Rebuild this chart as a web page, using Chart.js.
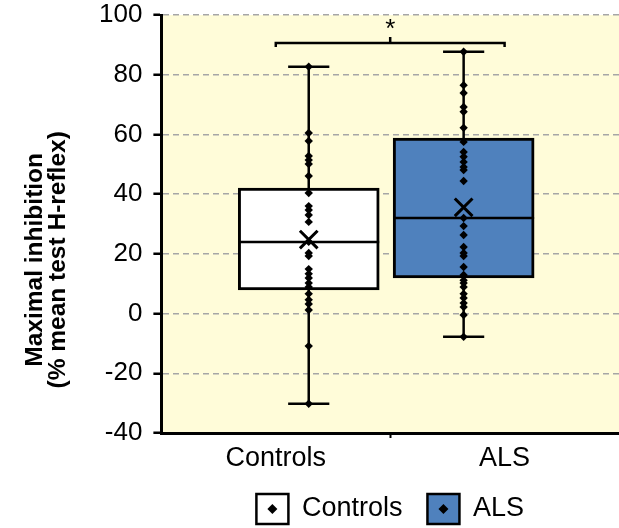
<!DOCTYPE html>
<html>
<head>
<meta charset="utf-8">
<script src="https://cdn.jsdelivr.net/npm/chart.js@4.4.1/dist/chart.umd.min.js"></script>
<style>
  html, body { margin: 0; padding: 0; background: #fff; }
  #wrap { width: 619px; height: 528px; }
</style>
</head>
<body>
<div id="wrap"><canvas id="boxChart"></canvas></div>
<script>
// Group names and the individual subject values
const categories = ['Controls', 'ALS'];
const controlsValues = [82.7, 60.5, 57.8, 52.8, 51.4, 50.1, 46.1, 40.4, 36.0, 34.7, 33.0, 30.7, 24.0,
  20.3, 19.3, 14.9, 13.3, 11.9, 10.2, 8.9, 6.6, 4.6, 3.2, 1.2, -10.9, -30.2];
const alsValues = [87.7, 76.5, 73.9, 69.2, 67.6, 62.2, 57.5, 54.1, 52.5, 50.8, 49.1, 48.1, 44.4,
  32.0, 29.3, 26.3, 22.3, 20.3, 19.3, 15.6, 12.9, 11.2, 10.2, 8.9, 6.6, 5.2, 3.5, 2.2, -0.5, -7.8];

// Box summary per group (Controls, ALS)
const whiskerLow = [-30.2, -7.8];
const quartile1 = [7.9, 11.9];
const medians = [24.0, 32.0];
const quartile3 = [42.0, 58.8];
const whiskerHigh = [82.7, 87.7];
const means = [24.8, 35.6];

// y axis ticks and title
const yMin = -40, yMax = 100, yStep = 20;
const yTitle = ['Maximal inhibition', '(% mean test H-reflex)'];

// significance bracket between the groups
const bracketLevel = 90.6;
const sigLabel = '*';

// layout of the x axis: groups sit at 1 and 3 on a 0..4 scale
const groupSlot = [1, 3];
const boxCenter = [1.288, 2.642];
const boxHalf = 0.616;
const capHalf = 0.18;

const fillColors = ['#FFFFFF', '#4F81BD'];
const FONT = "'Liberation Sans', Arial, sans-serif";

const datasets = [];

categories.forEach((name, i) => {
  const cx = boxCenter[i];
  // whisker stem
  datasets.push({
    type: 'line', order: 6, borderColor: '#000', borderWidth: 2.5, pointRadius: 0,
    data: [{ x: cx, y: whiskerLow[i] }, { x: cx, y: whiskerHigh[i] }]
  });
  // whisker caps
  [whiskerLow[i], whiskerHigh[i]].forEach(v => {
    datasets.push({
      type: 'line', order: 6, borderColor: '#000', borderWidth: 2.5, pointRadius: 0,
      data: [{ x: cx - capHalf, y: v }, { x: cx + capHalf, y: v }]
    });
  });
  // median line
  datasets.push({
    type: 'line', order: 4, borderColor: '#000', borderWidth: 2.5, pointRadius: 0,
    data: [{ x: cx - boxHalf, y: medians[i] }, { x: cx + boxHalf, y: medians[i] }]
  });
});

// the boxes themselves, as floating bars from Q1 to Q3
datasets.push({
  type: 'bar', order: 5,
  data: categories.map((c, i) => ({ x: boxCenter[i], y: [quartile1[i], quartile3[i]] })),
  backgroundColor: fillColors,
  borderColor: '#000',
  borderWidth: 3,
  borderSkipped: false,
  barThickness: 141
});

// individual subjects
[controlsValues, alsValues].forEach((vals, i) => {
  datasets.push({
    type: 'scatter', order: 3,
    data: vals.map(v => ({ x: boxCenter[i], y: v })),
    pointStyle: 'rectRot', pointRadius: 4.2, backgroundColor: '#000', borderWidth: 0
  });
});

// group means
datasets.push({
  type: 'scatter', order: 2,
  data: means.map((m, i) => ({ x: boxCenter[i], y: m })),
  pointStyle: 'crossRot', pointRadius: 12.5, borderColor: '#000', borderWidth: 3
});

// significance bracket
datasets.push({
  type: 'line', order: 4, borderColor: '#000', borderWidth: 2.5, pointRadius: 0,
  data: [
    { x: groupSlot[0], y: bracketLevel - 1.3 }, { x: groupSlot[0], y: bracketLevel },
    { x: groupSlot[1], y: bracketLevel }, { x: groupSlot[1], y: bracketLevel - 1.3 }
  ]
});
datasets.push({
  type: 'line', order: 4, borderColor: '#000', borderWidth: 2.5, pointRadius: 0,
  data: [{ x: 2, y: bracketLevel }, { x: 2, y: bracketLevel + 2 }]
});

// plot area tint, significance mark, y title and legend diamonds
const decorations = {
  id: 'decorations',
  beforeDraw(chart) {
    const { ctx, chartArea: a } = chart;
    ctx.save();
    ctx.fillStyle = '#FFFCD9';
    ctx.fillRect(a.left, a.top, a.right - a.left, a.bottom - a.top);
    ctx.restore();
  },
  afterDatasetsDraw(chart) {
    const { ctx, scales } = chart;
    ctx.save();
    ctx.fillStyle = '#000';
    ctx.font = '26px ' + FONT;
    ctx.textAlign = 'center';
    ctx.textBaseline = 'middle';
    ctx.fillText(sigLabel, scales.x.getPixelForValue(2), scales.y.getPixelForValue(bracketLevel + 4.5));
    ctx.restore();
  },
  afterDraw(chart) {
    const ctx = chart.ctx;
    // rotated two-line axis title, sitting a little below the middle of the axis
    const midY = chart.scales.y.getPixelForValue(18);
    ctx.save();
    ctx.fillStyle = '#000';
    ctx.font = 'bold 24.5px ' + FONT;
    ctx.textAlign = 'center';
    ctx.textBaseline = 'middle';
    yTitle.forEach((line, i) => {
      ctx.save();
      ctx.translate(35 + i * 23.5, midY);
      ctx.rotate(-Math.PI / 2);
      ctx.fillText(line, 0, 0);
      ctx.restore();
    });
    ctx.restore();

    const boxes = chart.legend && chart.legend.legendHitBoxes;
    if (!boxes) return;
    const bw = chart.legend.options.labels.boxWidth;
    ctx.save();
    ctx.fillStyle = '#000';
    boxes.forEach(b => {
      const cx = b.left + bw / 2;
      const cy = b.top + b.height / 2;
      const r = 5;
      ctx.beginPath();
      ctx.moveTo(cx, cy - r);
      ctx.lineTo(cx + r, cy);
      ctx.lineTo(cx, cy + r);
      ctx.lineTo(cx - r, cy);
      ctx.closePath();
      ctx.fill();
    });
    ctx.restore();
  }
};

new Chart(document.getElementById('boxChart'), {
  type: 'scatter',
  data: { datasets },
  plugins: [decorations],
  options: {
    responsive: true,
    maintainAspectRatio: false,
    animation: false,
    layout: { autoPadding: false, padding: { left: 88, top: 0, right: 0, bottom: -6 } },
    plugins: {
      tooltip: { enabled: false },
      legend: {
        position: 'bottom',
        fullSize: false,
        onClick: null,
        labels: {
          boxWidth: 32,
          boxHeight: 30,
          padding: 25,
          color: '#000',
          font: { family: FONT, size: 27 },
          generateLabels: () => categories.map((name, i) => ({
            text: name,
            fillStyle: fillColors[i],
            strokeStyle: '#000',
            lineWidth: 2.5,
            hidden: false,
            datasetIndex: 0
          }))
        }
      }
    },
    scales: {
      x: {
        type: 'linear',
        min: 0,
        max: 4,
        offset: false,
        afterBuildTicks: scale => { scale.ticks = [1, 2, 3].map(v => ({ value: v })); },
        // labels may hang into the legend's top padding
        afterFit: scale => { scale.paddingRight = 0; scale.height = 36; },
        ticks: {
          autoSkip: false,
          maxRotation: 0,
          padding: 7.5,
          color: '#000',
          font: { family: FONT, size: 27, lineHeight: 1.0 },
          callback: v => v === groupSlot[0] ? categories[0] : (v === groupSlot[1] ? categories[1] : '')
        },
        grid: {
          offset: false,
          drawOnChartArea: false,
          drawTicks: true,
          tickLength: 5,
          tickWidth: 2,
          tickColor: c => (c.tick && c.tick.value === 2) ? '#000' : 'rgba(0,0,0,0)'
        },
        border: { color: '#000', width: 3 }
      },
      y: {
        min: yMin,
        max: yMax,
        // keep the top of the plot close to the canvas edge
        afterFit: scale => { scale.paddingTop = 15; },
        ticks: {
          stepSize: yStep,
          padding: 11,
          color: '#000',
          font: { family: FONT, size: 26 }
        },
        grid: {
          color: c => (c.tick && c.tick.value === yMin) ? 'rgba(0,0,0,0)' : '#A6A6A6',
          lineWidth: 1.5,
          tickColor: '#000',
          tickLength: 8,
          tickWidth: 2.5,
          tickBorderDash: []
        },
        border: { color: '#000', width: 3, dash: [6, 4] }
      }
    }
  }
});
</script>
</body>
</html>
